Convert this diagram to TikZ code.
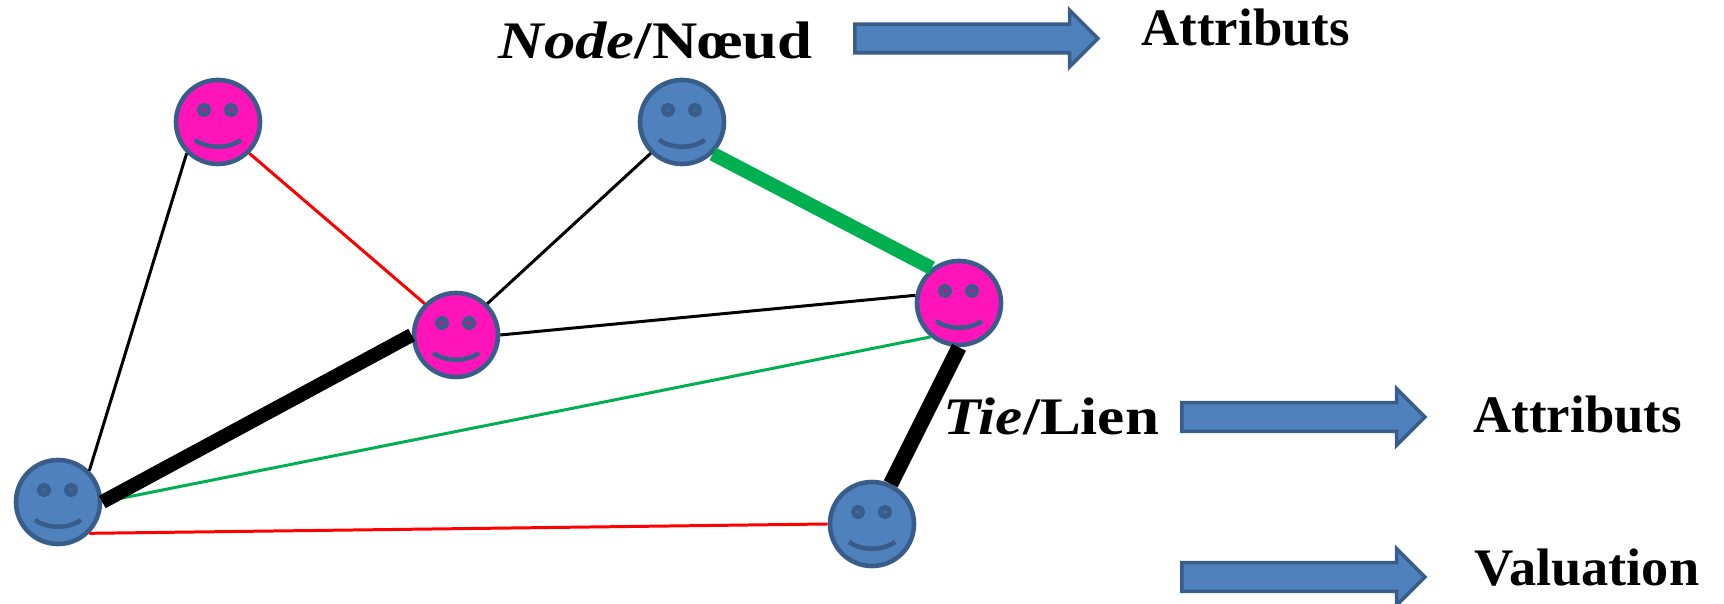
\documentclass[tikz,border=0pt]{standalone}
\usepackage{fontspec}
\setmainfont{Liberation Serif}
\usetikzlibrary{shapes.arrows}

\begin{document}
\begin{tikzpicture}[x=0.01cm,y=-0.01cm,
    face/.style={circle,draw=faceborder,line width=1.3pt,minimum size=0.84cm,inner sep=0pt},
    blueface/.style={face,fill=faceblue},
    pinkface/.style={face,fill=facepink},
    thinlink/.style={line width=0.85pt},
    thicklink/.style={line width=4pt},
    label/.style={anchor=base west,inner sep=0pt,font=\fontsize{15}{18}\selectfont\bfseries},
    blockarrow/.style={single arrow,draw=faceborder,fill=faceblue,line width=1pt,inner xsep=0pt,inner ysep=0.125cm,
      minimum height=2.43cm,single arrow head extend=0.14cm,anchor=tail}]

% Define the colors
\definecolor{faceblue}{HTML}{4F81BD}
\definecolor{facepink}{HTML}{FF14B9}
\definecolor{faceborder}{HTML}{385D8A}
\definecolor{linkgreen}{HTML}{00B050}

\useasboundingbox (0,0) rectangle (1724,604);

% Draw the faces
\node[pinkface] (A) at (218,122) {};
\node[blueface] (B) at (682,122) {};
\node[pinkface] (C) at (456,335) {};
\node[pinkface] (D) at (959,303) {};
\node[blueface] (E) at (58,502) {};
\node[blueface] (F) at (872,524) {};

% Draw the eyes and the mouths
\foreach \n/\c in {A/facepink,B/faceblue,C/facepink,D/facepink,E/faceblue,F/faceblue} {
  \filldraw[draw=faceborder,fill=\c!80!black,line width=1.3pt] ([shift={(-14,-12)}]\n.center) circle (4.8);
  \filldraw[draw=faceborder,fill=\c!80!black,line width=1.3pt] ([shift={(13,-12)}]\n.center) circle (4.8);
  \draw[faceborder,line width=1.3pt] ([shift={(-23,18)}]\n.center) .. controls ([shift={(-10,27)}]\n.center) and ([shift={(10,27)}]\n.center) .. ([shift={(23,18)}]\n.center);
}

% Draw the thin links
\draw[thinlink] (A.225) -- (E.45);
\draw[thinlink,red] (A.-45) -- (C.135);
\draw[thinlink] (C.45) -- (B.225);
\draw[thinlink] (C.0) -- (D.170);
\draw[thinlink,linkgreen] (E.0) -- (D.230);
\draw[thinlink,red] (E.-45) -- (F.180);

% Draw the thick links
\draw[thicklink] (E.0) -- (C.180);
\draw[thicklink,linkgreen] (B.-46) -- (D.128);
\draw[line width=4.4pt] (D.270) -- (F.65);

% Draw the labels
\node[label,xscale=1.19,transform shape] (node) at (498,59) {\textit{Node}/Nœud};
\node[label] (attr) at (1141,46) {Attributs};
\node[label,xscale=1.16,transform shape] (tie) at (943,435) {\textit{Tie}/Lien};
\node[label] (attrtie) at (1473,433) {Attributs};
\node[label,xscale=1.03,transform shape] (val) at (1474,586) {Valuation};

% Draw the arrows
\node[blockarrow] (nodearrow) at (853,38.5) {};
\node[blockarrow] (tiearrow) at (1180,417) {};
\node[blockarrow] (valarrow) at (1180,577) {};

\end{tikzpicture}
\end{document}
